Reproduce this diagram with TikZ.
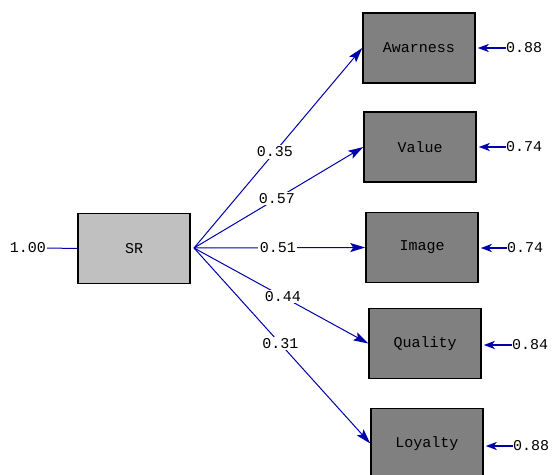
\documentclass[tikz,border=0pt]{standalone}
\usepackage{fontspec}
\setmonofont{Liberation Mono}
\usetikzlibrary{arrows.meta}
\definecolor{pathblue}{RGB}{0,0,170}
\definecolor{boxgray}{RGB}{128,128,128}
\definecolor{srgray}{RGB}{192,192,192}
\begin{document}
\begin{tikzpicture}[x=1pt,y=-1pt,
  latent/.style={draw=black, line width=1.5pt, fill=boxgray,
    minimum width=112pt, minimum height=70pt, inner sep=0pt,
    font=\ttfamily\fontsize{15}{15}\selectfont},
  coef/.style={fill=white, inner sep=1.5pt,
    font=\ttfamily\fontsize{15}{15}\selectfont},
  errlabel/.style={inner sep=0pt, anchor=west,
    font=\ttfamily\fontsize{15}{15}\selectfont},
  loadarrow/.style={draw=pathblue, line width=1pt,
    arrows={-Stealth[length=15pt,width=9pt,inset=3pt,fill=pathblue]}},
  errarrow/.style={draw=pathblue, line width=2.5pt, shorten >=2pt,
    arrows={-Stealth[length=11pt,width=8pt,inset=3pt,fill=pathblue]}},
]
\useasboundingbox (0,0) rectangle (554,474);
\clip (0,0) rectangle (554,474);

% exogenous factor
\node[latent, fill=srgray] (sr) at (134,248.5) {SR};
\node[inner sep=1pt, font=\ttfamily\fontsize{15}{15}\selectfont] (var) at (28,248) {1.00};
\draw[pathblue, line width=1pt] (var.east) -- (sr.west);
\coordinate (src) at (194,248);

% indicator boxes
\node[latent] (aw)  at (419,48)    {Awarness};
\node[latent] (val) at (420,147)   {Value};
\node[latent] (img) at (422,247.5) {Image};
\node[latent] (qu)  at (425,343.5) {Quality};
\node[latent] (loy) at (427,443.5) {Loyalty};

% loadings
\draw[loadarrow] (src) -- node[coef, pos=0.48] {0.35} (aw.west);
\draw[loadarrow] (src) -- node[coef, pos=0.49] {0.57} (val.west);
\draw[loadarrow] (src) -- node[coef, pos=0.49] {0.51} (img.west);
\draw[loadarrow] (src) -- node[coef, pos=0.51] {0.44} (qu.west);
\draw[loadarrow] (src) -- node[coef, pos=0.49] {0.31} (loy.west);

% error variances
\node[errlabel] (e1) at (506,48)  {0.88};
\node[errlabel] (e2) at (506,147) {0.74};
\node[errlabel] (e3) at (507,248) {0.74};
\node[errlabel] (e4) at (512,345) {0.84};
\node[errlabel] (e5) at (513,446) {0.88};
\draw[errarrow] (e1.west) -- (aw.east |- e1.west);
\draw[errarrow] (e2.west) -- (val.east |- e2.west);
\draw[errarrow] (e3.west) -- (img.east |- e3.west);
\draw[errarrow] (e4.west) -- (qu.east |- e4.west);
\draw[errarrow] (e5.west) -- (loy.east |- e5.west);
\end{tikzpicture}
\end{document}
